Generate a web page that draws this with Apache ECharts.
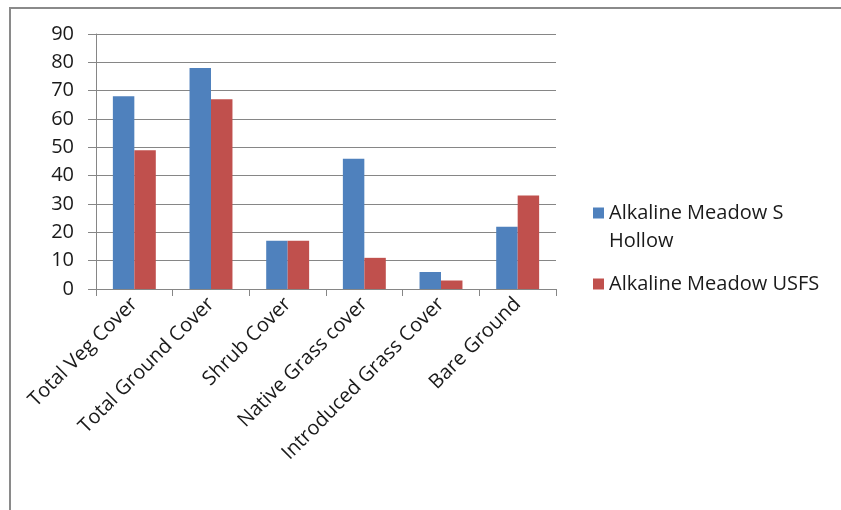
<!DOCTYPE html>
<html><head><meta charset="utf-8">
<script src="https://cdn.jsdelivr.net/npm/echarts@6/dist/echarts.min.js"></script>
<style>html,body{margin:0;padding:0;background:#fff}#c{width:841px;height:510px}</style>
</head><body><div id="c"></div>
<script>
const categories = ['Total Veg Cover','Total Ground Cover','Shrub Cover','Native Grass cover','Introduced Grass Cover','Bare Ground'];
const seriesNames = ['Alkaline Meadow S Hollow','Alkaline Meadow USFS'];
const sHollow = [68,78,17,46,6,22];
const usfs = [49,67,17,11,3,33];
const yTicks = [0,10,20,30,40,50,60,70,80,90];

const font = 'Open Sans';
const chart = echarts.init(document.getElementById('c'));
chart.setOption({
  animation:false,
  backgroundColor:'#fff',
  graphic:[{type:'rect',shape:{x:10,y:8,width:900,height:600},style:{fill:'none',stroke:'#8a8a8a',lineWidth:2},z:-1}],
  grid:{left:96,top:34,right:285,bottom:221},
  legend:{orient:'vertical',left:588,top:166,itemWidth:11,itemHeight:11,itemGap:15,
    icon:'rect',
    data:[seriesNames[0],seriesNames[1]],
    formatter:n=>n==='Alkaline Meadow S Hollow'?'\nAlkaline Meadow S\nHollow':n,
    textStyle:{fontFamily:font,fontSize:20,color:'#1a1a1a',lineHeight:28}},
  xAxis:{type:'category',data:categories,
    axisLine:{lineStyle:{color:'#868686',width:1}},
    axisTick:{show:true,length:7,lineStyle:{color:'#868686'}},
    axisLabel:{rotate:45,fontFamily:font,fontSize:20,color:'#1a1a1a',margin:12,interval:0}},
  yAxis:{type:'value',min:yTicks[0],max:yTicks[yTicks.length-1],interval:10,
    axisLine:{show:true,lineStyle:{color:'#868686'}},
    axisTick:{show:true,length:8,lineStyle:{color:'#868686'}},
    splitLine:{lineStyle:{color:'#868686',width:1}},
    axisLabel:{fontFamily:font,fontSize:20,color:'#1a1a1a',margin:22}},
  series:[
    {name:seriesNames[0],type:'bar',data:sHollow,itemStyle:{color:'#4F81BD'},barGap:'0%',barCategoryGap:'44%'},
    {name:seriesNames[1],type:'bar',data:usfs,itemStyle:{color:'#C0504D'},barGap:'0%',barCategoryGap:'44%'}
  ]
});
</script></body></html>
